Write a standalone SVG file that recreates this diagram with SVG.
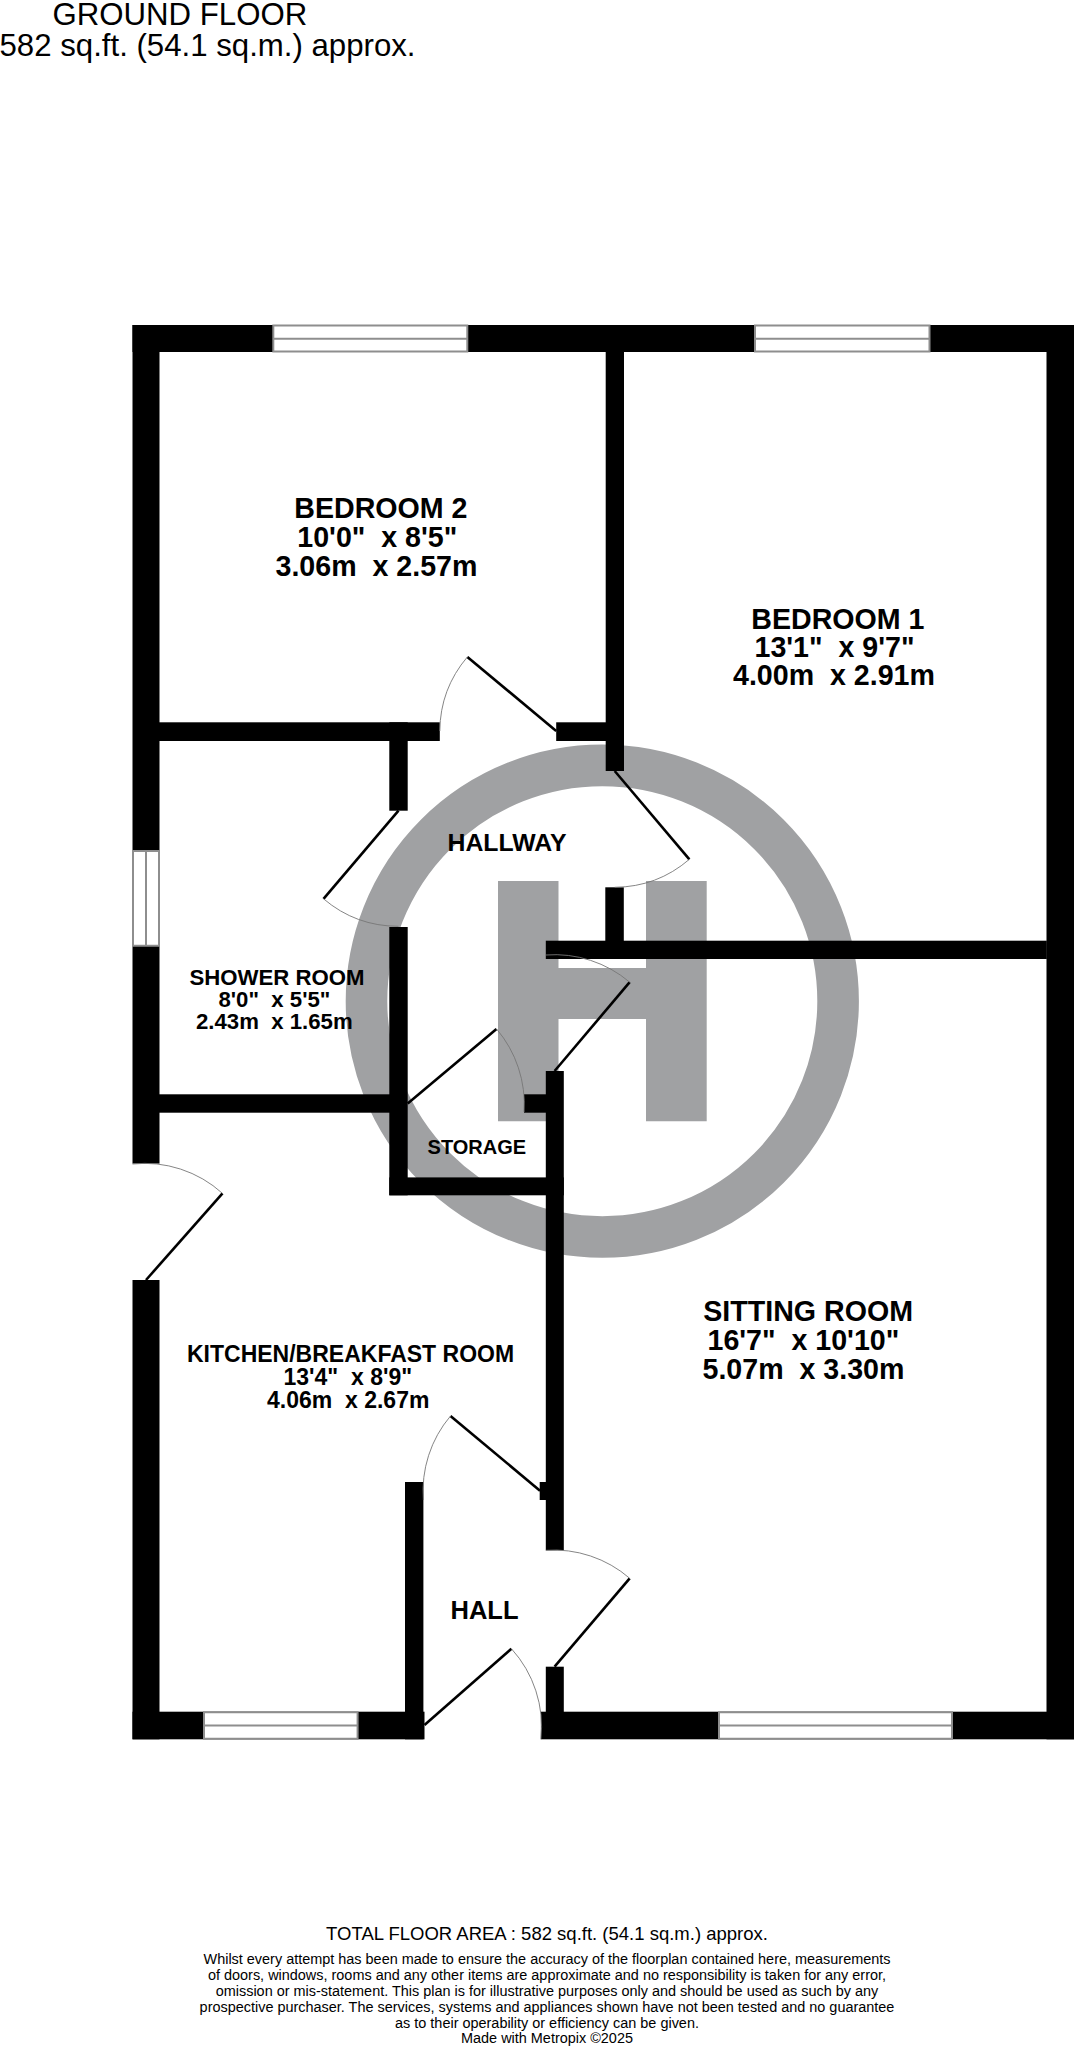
<svg xmlns="http://www.w3.org/2000/svg" width="1077" height="2048" viewBox="0 0 1077 2048">
<style>
text{font-family:"Liberation Sans",Arial,sans-serif;fill:#000;white-space:pre}
.b{font-weight:bold}
.w{fill:#000}
.win{fill:#fff;stroke:#8e8e8e;stroke-width:2}
.leaf{fill:none;stroke:#000;stroke-width:2.6}
.arc{fill:none;stroke:#777;stroke-width:.9}
.logo{fill:#a0a1a3}
.f{font-size:14.45px;text-anchor:middle}
.big{font-size:28.6px}
.mid{font-size:22.2px}
.kit{font-size:23px}
.title{font-size:31.2px}
</style>
<rect width="1077" height="2048" fill="#fff"/>
<g id="logo">
<circle cx="602.300" cy="1001.200" r="235.800" fill="none" stroke="#a0a1a3" stroke-width="41.600"/>
<path class="logo" d="M498 881h60.500v87h87.500V881H706.700V1121.300H646V1019h-87.500V1121.300H498z"/>
</g>
<g id="walls">
<rect class="w" x="132.500" y="325" width="941.500" height="27"/>
<rect class="w" x="132.500" y="325" width="27" height="838.600"/>
<rect class="w" x="1046.500" y="325" width="27.500" height="1414.300"/>
<rect class="w" x="605.700" y="325" width="18.300" height="446"/>
<rect class="w" x="159" y="722.300" width="280.800" height="18.700"/>
<rect class="w" x="556.200" y="722.300" width="60" height="18.700"/>
<rect class="w" x="389.300" y="722.300" width="18.400" height="88.400"/>
<rect class="w" x="605.300" y="887.300" width="18.500" height="60"/>
<rect class="w" x="545.800" y="940.700" width="501" height="18.300"/>
<rect class="w" x="389.300" y="927" width="18.400" height="268.300"/>
<rect class="w" x="159" y="1094.300" width="231" height="18.400"/>
<rect class="w" x="524" y="1094.300" width="30" height="18.400"/>
<rect class="w" x="389.300" y="1177.400" width="174.500" height="17.900"/>
<rect class="w" x="545.800" y="1071" width="18" height="479.300"/>
<rect class="w" x="539.700" y="1482" width="10" height="18"/>
<rect class="w" x="132.500" y="1280" width="27" height="459.300"/>
<rect class="w" x="405" y="1482" width="18.400" height="257.300"/>
<rect class="w" x="132.500" y="1711.700" width="292" height="27.600"/>
<rect class="w" x="540.900" y="1711.700" width="533.100" height="27.600"/>
<rect class="w" x="545.800" y="1666.700" width="18" height="50"/>
</g>
<g id="windows">
<path class="win" d="M273.300 325.500H467.300V351.500H273.300zM273.300 338.800H467.300"/>
<path class="win" d="M755 325.500H929.500V351.500H755zM755 338.800H929.500"/>
<path class="win" d="M133 851H159V945.800H133zM146 851V945.800"/>
<path class="win" d="M204 1712.200H357.600V1738.800H204zM204 1725.500H357.600"/>
<path class="win" d="M719 1712.200H952V1738.800H719zM719 1725.500H952"/>
</g>
<g id="connectors">
<path class="leaf" d="M556.200 731L467.400 656.900"/><path class="arc" d="M467.400 656.900A116 116 0 0 0 439.800 731"/>
<path class="leaf" d="M614.700 771L689.400 859.300"/><path class="arc" d="M689.400 859.300A116 116 0 0 1 614.700 887.300"/>
<path class="leaf" d="M398.500 810.700L323.500 898.800"/><path class="arc" d="M323.500 898.800A116 116 0 0 0 398.500 926.300"/>
<path class="leaf" d="M407.700 1103.500L496.500 1028.900"/><path class="arc" d="M496.500 1028.900A116 116 0 0 1 524 1112"/>
<path class="leaf" d="M554.600 1071L629.700 982.200"/><path class="arc" d="M629.700 982.200A116 116 0 0 0 545.800 955"/>
<path class="leaf" d="M146 1280L222.500 1193.400"/><path class="arc" d="M222.500 1193.400A116 116 0 0 0 132.500 1164"/>
<path class="leaf" d="M540 1490.700L450.500 1416"/><path class="arc" d="M450.500 1416A116 116 0 0 0 423.400 1500"/>
<path class="leaf" d="M554.600 1666.700L629.700 1578.300"/><path class="arc" d="M629.700 1578.300A116 116 0 0 0 545.800 1550.300"/>
<path class="leaf" d="M424.500 1725L511.400 1648.700"/><path class="arc" d="M511.400 1648.700A116 116 0 0 1 540.900 1739.300"/>
</g>
<g id="title">
<text class="title" x="52.500" y="24.800">GROUND FLOOR</text>
<text class="title" x="-0.500" y="56">582 sq.ft. (54.1 sq.m.) approx.</text>
</g>
<g id="bedroom2"><text class="b big" x="294.300" y="517.900">BEDROOM 2</text><text class="b big" x="297.300" y="547.300">10'0"  x 8'5"</text><text class="b big" x="275.500" y="576">3.06m  x 2.57m</text></g>
<g id="bedroom1"><text class="b big" x="751.300" y="628.600">BEDROOM 1</text><text class="b big" x="754.500" y="657">13'1"  x 9'7"</text><text class="b big" x="733" y="685.300">4.00m  x 2.91m</text></g>
<g id="hallway"><text class="b" font-size="24.800" x="447.500" y="850.500">HALLWAY</text></g>
<g id="shower"><text class="b mid" x="189.500" y="985.200">SHOWER ROOM</text><text class="b mid" x="218.500" y="1007.400">8'0"  x 5'5"</text><text class="b mid" x="196" y="1028.900">2.43m  x 1.65m</text></g>
<g id="storage"><text class="b" font-size="20" x="427.600" y="1153.600">STORAGE</text></g>
<g id="kitchen"><text class="b kit" x="187" y="1362.300">KITCHEN/BREAKFAST ROOM</text><text class="b kit" x="283.500" y="1385">13'4"  x 8'9"</text><text class="b kit" x="267" y="1408">4.06m  x 2.67m</text></g>
<g id="hall"><text class="b" font-size="25.500" x="450.500" y="1619">HALL</text></g>
<g id="sitting"><text class="b big" x="703.300" y="1320.700">SITTING ROOM</text><text class="b big" x="707.500" y="1349.700">16'7"  x 10'10"</text><text class="b big" x="702.500" y="1378.700">5.07m  x 3.30m</text></g>
<g id="footer">
<text class="f" style="font-size:18.5px" x="547" y="1940">TOTAL FLOOR AREA : 582 sq.ft. (54.1 sq.m.) approx.</text>
<text class="f" x="547" y="1964">Whilst every attempt has been made to ensure the accuracy of the floorplan contained here, measurements</text>
<text class="f" x="547" y="1980">of doors, windows, rooms and any other items are approximate and no responsibility is taken for any error,</text>
<text class="f" x="547" y="1996">omission or mis-statement. This plan is for illustrative purposes only and should be used as such by any</text>
<text class="f" x="547" y="2012">prospective purchaser. The services, systems and appliances shown have not been tested and no guarantee</text>
<text class="f" x="547" y="2028">as to their operability or efficiency can be given.</text>
<text class="f" x="547" y="2043">Made with Metropix ©2025</text>
</g>
</svg>
